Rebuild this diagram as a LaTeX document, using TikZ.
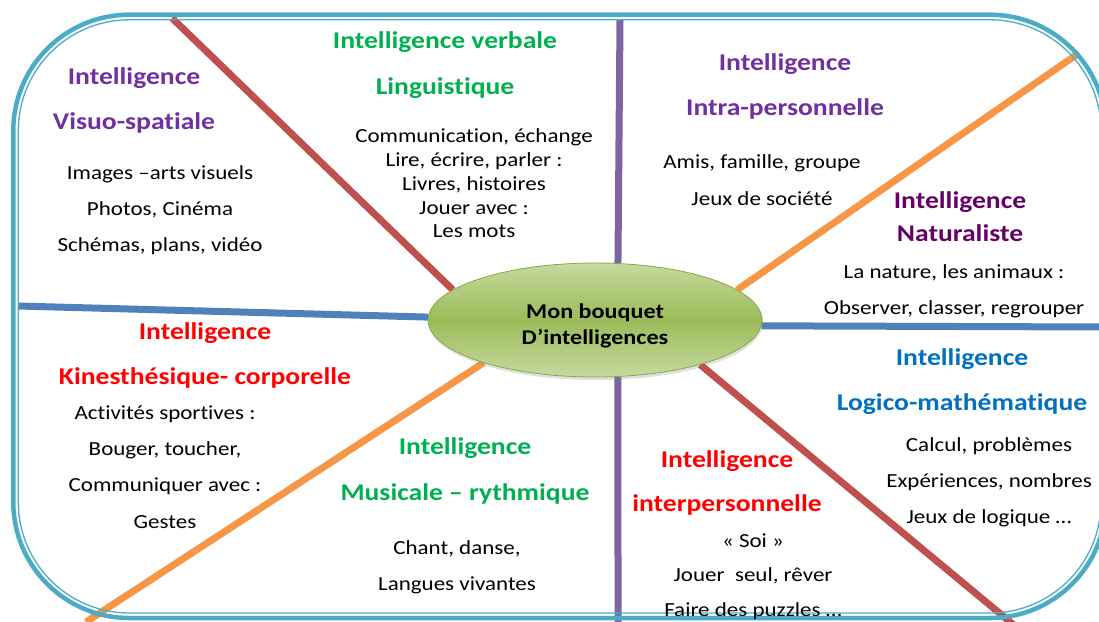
\documentclass[tikz,border=0pt]{standalone}
\usepackage{fontspec}
\setmainfont{Carlito}[FakeStretch=1.15, Ligatures=NoCommon]
\usetikzlibrary{shapes.geometric,shadows,backgrounds}

\definecolor{frameblue}{HTML}{4BACC6}
\definecolor{spokered}{HTML}{C0504D}
\definecolor{spokepurple}{HTML}{8064A2}
\definecolor{spokeorange}{HTML}{F79646}
\definecolor{spokeblue}{HTML}{4F81BD}
\definecolor{bouquetgreen}{HTML}{9BBB59}
\definecolor{bouquetlight}{HTML}{C6DA9E}
\definecolor{bouquetrim}{HTML}{86A84A}
\definecolor{headpurple}{HTML}{7030A0}
\definecolor{headplum}{HTML}{660066}
\definecolor{headgreen}{HTML}{00B050}
\definecolor{headblue}{HTML}{0070C0}
\definecolor{headred}{HTML}{FF0000}

\begin{document}
\begin{tikzpicture}[x=1pt, y=-1pt, node distance=36pt,
		spoke/.style={line width=7pt},
		head/.style={font=\bfseries\fontsize{24}{28}\selectfont, inner sep=0pt},
		txt/.style={font=\fontsize{20}{23}\selectfont, inner sep=0pt},
		main node/.style={ellipse, draw=bouquetrim, line width=0.8pt,
			top color=bouquetlight, bottom color=bouquetlight, middle color=bouquetgreen,
			minimum width=334pt, minimum height=114pt, inner sep=0pt,
			drop shadow={opacity=0.25, shadow xshift=1pt, shadow yshift=-3pt}}]

		\useasboundingbox (0,0) rectangle (1099,621);
		\clip (0,0) rectangle (1099,621);

		% cadre
		\draw[frameblue, line width=4.5pt, rounded corners=116pt] (13.3,14.7) rectangle (1106,618);
		\draw[frameblue, line width=1.3pt, rounded corners=111pt] (18.3,19.8) rectangle (1101,613);

		% centre
		\node[main node] (B) at (595,320) {};
		\node[align=center, font=\bfseries\fontsize{21}{26}\selectfont] (T) at (595,326) {Mon bouquet\\D’intelligences};

		% bouts des branches
		\coordinate (r1) at (172,18);
		\coordinate (p1) at (620,20);
		\coordinate (o1) at (1079,53);
		\coordinate (b1) at (1105,327);
		\coordinate (r2) at (1015,626);
		\coordinate (p2) at (618,626);
		\coordinate (o2) at (86,622);
		\coordinate (b2) at (18,306);

		\begin{scope}[on background layer]
			\clip (0,0) rectangle (1099,621);
			\draw[spoke, spokered] (B.168) -- (r1);
			\draw[spoke, spokepurple] (B.68) -- (p1);
			\draw[spoke, spokeorange] (B.12) -- (o1);
			\draw[spoke, spokeblue] (B.-2.5) -- (b1);
			\draw[spoke, spokered] (B.-23) -- (r2);
			\draw[spoke, spokepurple] (B.-68) -- (p2);
			\draw[spoke, spokeorange] (B.-159) -- (o2);
			\draw[spoke, spokeblue] (B.179) -- (b2);
		\end{scope}

		\begin{scope}[shift={(0,2)}]
		% Visuo-spatiale
		\node[head, headpurple] (V1) at (134,76) {Intelligence};
		\node[head, headpurple] (V2) [node distance=45pt, below of=V1] {Visuo-spatiale};
		\node[txt] (V3) at (160,172) {Images –arts visuels};
		\node[txt] (V4) [below of=V3] {Photos, Cinéma};
		\node[txt] (V5) [below of=V4] {Schémas, plans, vidéo};

		% verbale
		\node[head, headgreen] (L1) at (445,40) {Intelligence verbale};
		\node[head, headgreen] (L2) [node distance=46pt, below of=L1] {Linguistique};
		\node[txt] (L3) at (474,135) {Communication, échange};
		\node[txt] (L4) [node distance=24pt, below of=L3] {Lire, écrire, parler :};
		\node[txt] (L5) [node distance=23.5pt, below of=L4] {Livres, histoires};
		\node[txt] (L6) [node distance=23.5pt, below of=L5] {Jouer avec :};
		\node[txt] (L7) [node distance=23.5pt, below of=L6] {Les mots};

		% intra-personnelle
		\node[head, headpurple] (A1) at (785,62) {Intelligence};
		\node[head, headpurple] (A2) [node distance=45pt, below of=A1] {Intra-personnelle};
		\node[txt] (A3) at (762,161) {Amis, famille, groupe};
		\node[txt] (A4) [below of=A3] {Jeux de société};

		% naturaliste
		\node[head, headplum] (N1) at (960,200) {Intelligence};
		\node[head, headplum] (N2) [node distance=31pt, below of=N1] {Naturaliste};
		\node[txt] (N3) at (954,271) {La nature, les animaux :};
		\node[txt] (N4) [below of=N3] {Observer, classer, regrouper};

		% logico-mathematique
		\node[head, headblue] (M1) at (962,357) {Intelligence};
		\node[head, headblue] (M2) [node distance=45pt, below of=M1] {Logico-mathématique};
		\node[txt] (M3) at (989,444) {Calcul, problèmes};
		\node[txt] (M4) [below of=M3] {Expériences, nombres};
		\node[txt] (M5) [below of=M4] {Jeux de logique …};

		% kinesthesique
		\node[head, headred] (K1) at (205,331) {Intelligence};
		\node[head, headred] (K2) [node distance=45pt, below of=K1] {Kinesthésique- corporelle};
		\node[txt] (K3) at (165,412) {Activités sportives :};
		\node[txt] (K4) [below of=K3] {Bouger, toucher,};
		\node[txt] (K5) [below of=K4] {Communiquer avec :};
		\node[txt] (K6) [below of=K5] {Gestes};

		% musicale
		\node[head, headgreen] (U1) at (465,446) {Intelligence};
		\node[head, headgreen] (U2) [node distance=46pt, below of=U1] {Musicale – rythmique};
		\node[txt] (U3) at (457,547) {Chant, danse,};
		\node[txt] (U4) [below of=U3] {Langues vivantes};

		% interpersonnelle
		\node[head, headred] (I1) at (727,459) {Intelligence};
		\node[head, headred] (I2) [node distance=44pt, below of=I1] {interpersonnelle};
		\node[txt] (I3) at (753,539) {« Soi »};
		\node[txt] (I4) [node distance=35pt, below of=I3] {Jouer~ seul, rêver};
		\node[txt] (I5) [node distance=35pt, below of=I4] {Faire des puzzles …};
		\end{scope}
\end{tikzpicture}
\end{document}
